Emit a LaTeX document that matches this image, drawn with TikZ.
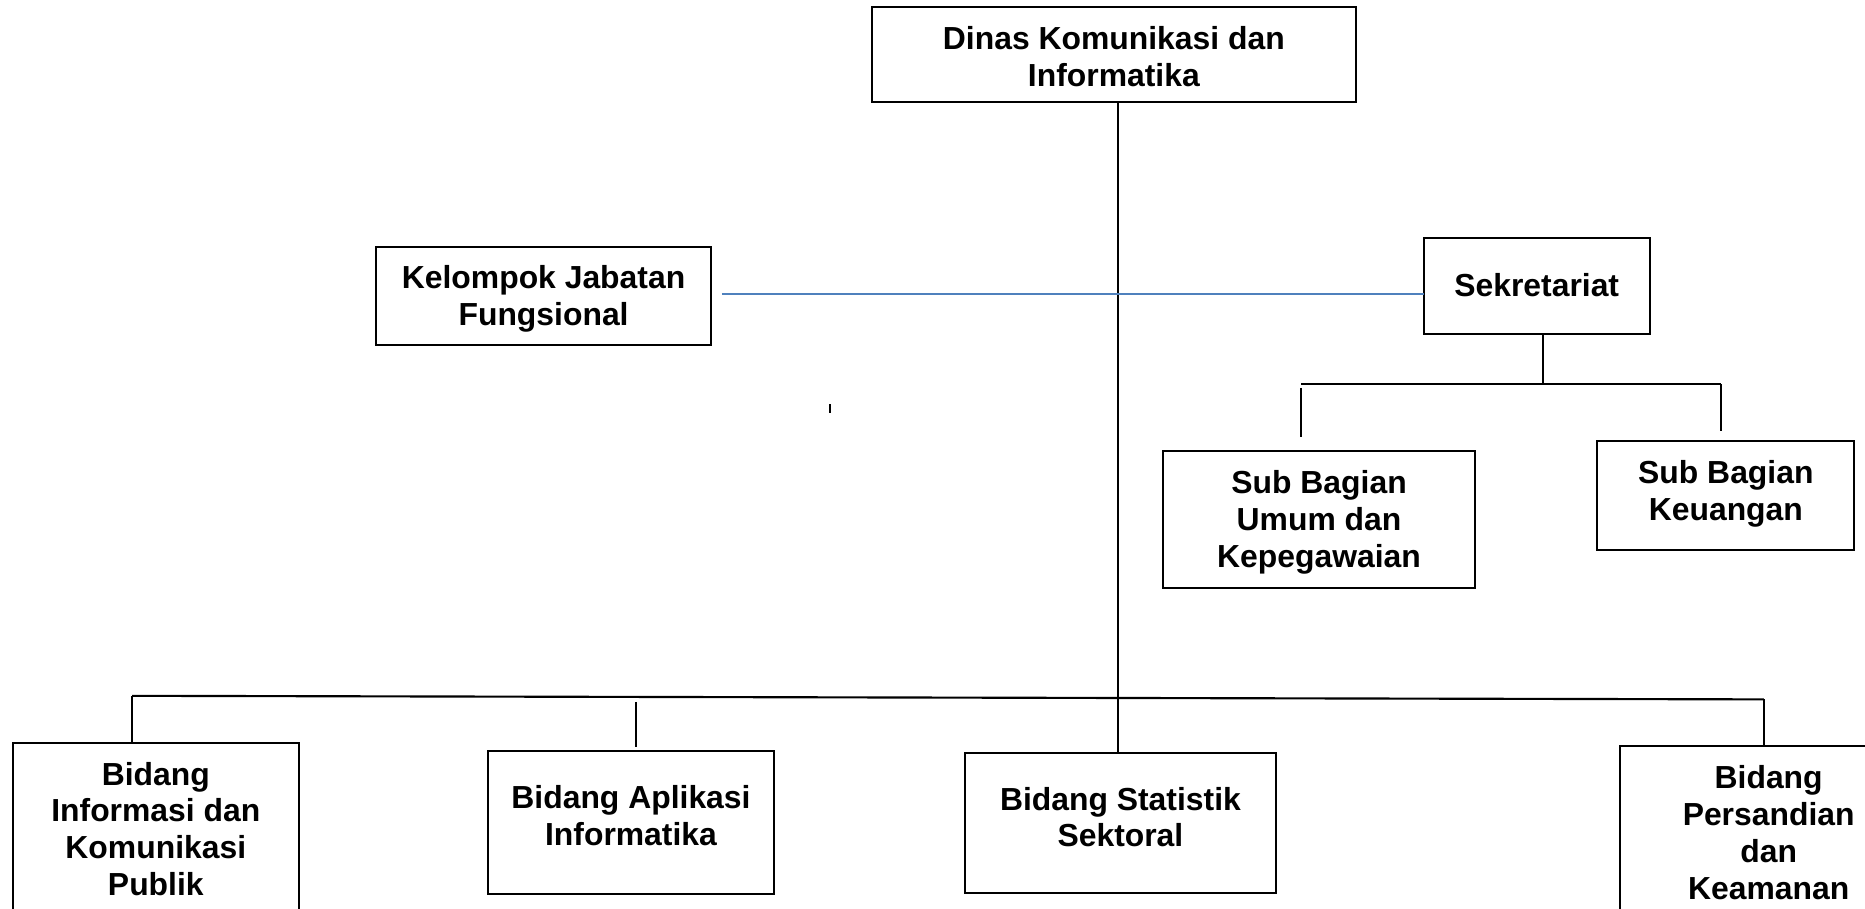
\documentclass[tikz,border=0pt]{standalone}
\usepackage{fontspec}
\setmainfont{Liberation Sans}
\begin{document}
\begin{tikzpicture}[x=1pt,y=-1pt,
  box/.style={draw, line width=1.7pt, inner sep=0pt},
  txt/.style={font=\bfseries\fontsize{26.8}{31}\selectfont, align=center, inner sep=0pt},
  ln/.style={line width=1.8pt},
  bl/.style={line width=1.7pt, draw=blueline}]
\definecolor{blueline}{RGB}{79,129,189}
\useasboundingbox (0,0) rectangle (1568,764);
\clip (0,0) rectangle (1568,764);
% boxes
\node[box, minimum width=407pt, minimum height=80pt] (top) at (936.5,46) {};
\node[txt] (topt) at (936.5,47.5) {Dinas Komunikasi dan\\Informatika};
\node[box, minimum width=282pt, minimum height=82pt] (kel) at (457,249) {};
\node[txt] (kelt) at (457,251) {Kelompok Jabatan\\Fungsional};
\node[box, minimum width=190pt, minimum height=81pt] (sek) at (1292,240.5) {};
\node[txt] (sekt) at (1292,239.5) {Sekretariat};
\node[box, minimum width=262pt, minimum height=115pt] (umum) at (1109,436.5) {};
\node[txt] (umumt) at (1109,439) {Sub Bagian\\Umum dan\\Kepegawaian};
\node[box, minimum width=216pt, minimum height=91pt] (keu) at (1451,416.5) {};
\node[txt] (keut) at (1451,415) {Sub Bagian\\Keuangan};
\node[box, minimum width=240pt, minimum height=143pt] (info) at (131,696.5) {};
\node[txt] (infot) at (131,697) {Bidang\\Informasi dan\\Komunikasi\\Publik};
\node[box, minimum width=241pt, minimum height=121pt] (apl) at (530.5,691.5) {};
\node[txt] (aplt) at (530.5,685.5) {Bidang Aplikasi\\Informatika};
\node[box, minimum width=262pt, minimum height=118pt] (stat) at (942,692) {};
\node[txt] (statt) at (942,687) {Bidang Statistik\\Sektoral};
\node[box, minimum width=252pt, minimum height=145pt] (pers) at (1488,699.5) {};
\node[txt] (perst) at (1487,700) {Bidang\\Persandian\\dan\\Keamanan};
% coordinates
\coordinate (vtop) at (940,86);
\coordinate (vbot) at (940,632);
\coordinate (bl0) at (607,247);
\coordinate (br0) at (1197,247);
\coordinate (s1) at (1297,323);
\coordinate (sl) at (1094,323);
\coordinate (sr) at (1447,323);
\coordinate (sl1) at (1094,326);
\coordinate (sl2) at (1094,367);
\coordinate (sr2) at (1447,362);
\coordinate (h1) at (111,585);
\coordinate (h4) at (1483,588);
\coordinate (h1b) at (111,625);
\coordinate (a1) at (535,590);
\coordinate (a2) at (535,628);
\coordinate (h4b) at (1483,627);
\coordinate (t1) at (698,340);
\coordinate (t2) at (698,347);
% connectors
\draw[ln] (vtop) -- (vbot);
\draw[bl] (bl0) -- (br0);
\draw[ln] (sek.south -| s1) -- (s1);
\draw[ln] (sl) -- (sr);
\draw[ln] (sl1) -- (sl2);
\draw[ln] (sr) -- (sr2);
\draw[ln] (h1) -- (h4);
\draw[ln] (h1) -- (h1b);
\draw[ln] (a1) -- (a2);
\draw[ln] (h4) -- (h4b);
\draw[line width=1.3pt] (t1) -- (t2);
\end{tikzpicture}
\end{document}
